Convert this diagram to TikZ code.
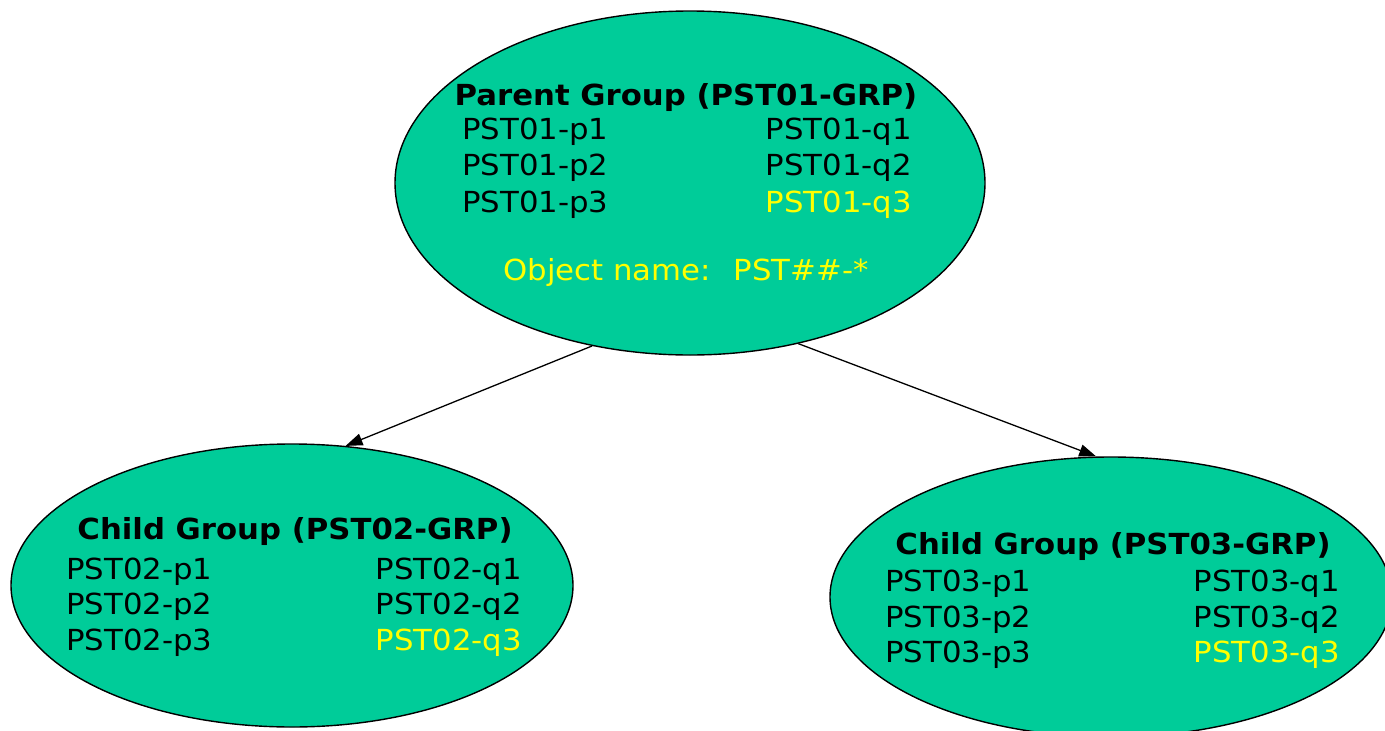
\documentclass[tikz,border=0pt]{standalone}
\usepackage{fontspec}
\setmainfont[FakeStretch=1.06]{DejaVu Sans}
\usetikzlibrary{shapes.geometric,arrows.meta}
\definecolor{grpgreen}{RGB}{0,204,153}
\definecolor{grpyellow}{RGB}{255,255,0}
\begin{document}
\begin{tikzpicture}[x=1pt,y=-1pt,
  grp/.style={ellipse, draw=black, line width=1.4pt, fill=grpgreen, inner sep=0pt},
  ttl/.style={font=\fontsize{29}{34}\selectfont\bfseries, anchor=base, inner sep=0pt},
  itm/.style={font=\fontsize{29}{34}\selectfont, inner sep=0pt},
  lft/.style={itm, anchor=base west},
  rgt/.style={itm, anchor=base east},
  hl/.style={text=grpyellow},
  link/.style={line width=1.3pt, -{Triangle[length=17pt,width=12pt]}}]
\useasboundingbox[fill=white] (0,0) rectangle (1385,731);
% ellipses
\node[grp, minimum width=590pt, minimum height=344pt] (parent) at (690,183) {};
\node[grp, minimum width=562pt, minimum height=283pt] (childa) at (292,585.5) {};
\node[grp, minimum width=562pt, minimum height=280pt] (childb) at (1111,597) {};
% connectors
\draw[link] (parent.239) -- (childa.69);
\draw[link] (parent.304) -- (childb.96.5);
% parent texts
\node[ttl] (ptitle) at (686,105) {Parent Group (PST01-GRP)};
\node[lft] (pp1) at (462,139) {PST01-p1};
\node[lft] (pp2) at (462,175) {PST01-p2};
\node[lft] (pp3) at (462,212) {PST01-p3};
\node[rgt] (pq1) at (912,139) {PST01-q1};
\node[rgt] (pq2) at (912,175) {PST01-q2};
\node[rgt, hl] (pq3) at (912,212) {PST01-q3};
\node[itm, hl, anchor=base] (pobj) at (686,280) {Object name: \ PST\#\#-*};
% child A texts
\node[ttl] (atitle) at (295,539) {Child Group (PST02-GRP)};
\node[lft] (ap1) at (66,579) {PST02-p1};
\node[lft] (ap2) at (66,614) {PST02-p2};
\node[lft] (ap3) at (66,650) {PST02-p3};
\node[rgt] (aq1) at (522,579) {PST02-q1};
\node[rgt] (aq2) at (522,614) {PST02-q2};
\node[rgt, hl] (aq3) at (522,650) {PST02-q3};
% child B texts
\node[ttl] (btitle) at (1113,554) {Child Group (PST03-GRP)};
\node[lft] (bp1) at (885,591) {PST03-p1};
\node[lft] (bp2) at (885,627) {PST03-p2};
\node[lft] (bp3) at (885,662) {PST03-p3};
\node[rgt] (bq1) at (1340,591) {PST03-q1};
\node[rgt] (bq2) at (1340,627) {PST03-q2};
\node[rgt, hl] (bq3) at (1340,662) {PST03-q3};
\end{tikzpicture}
\end{document}
